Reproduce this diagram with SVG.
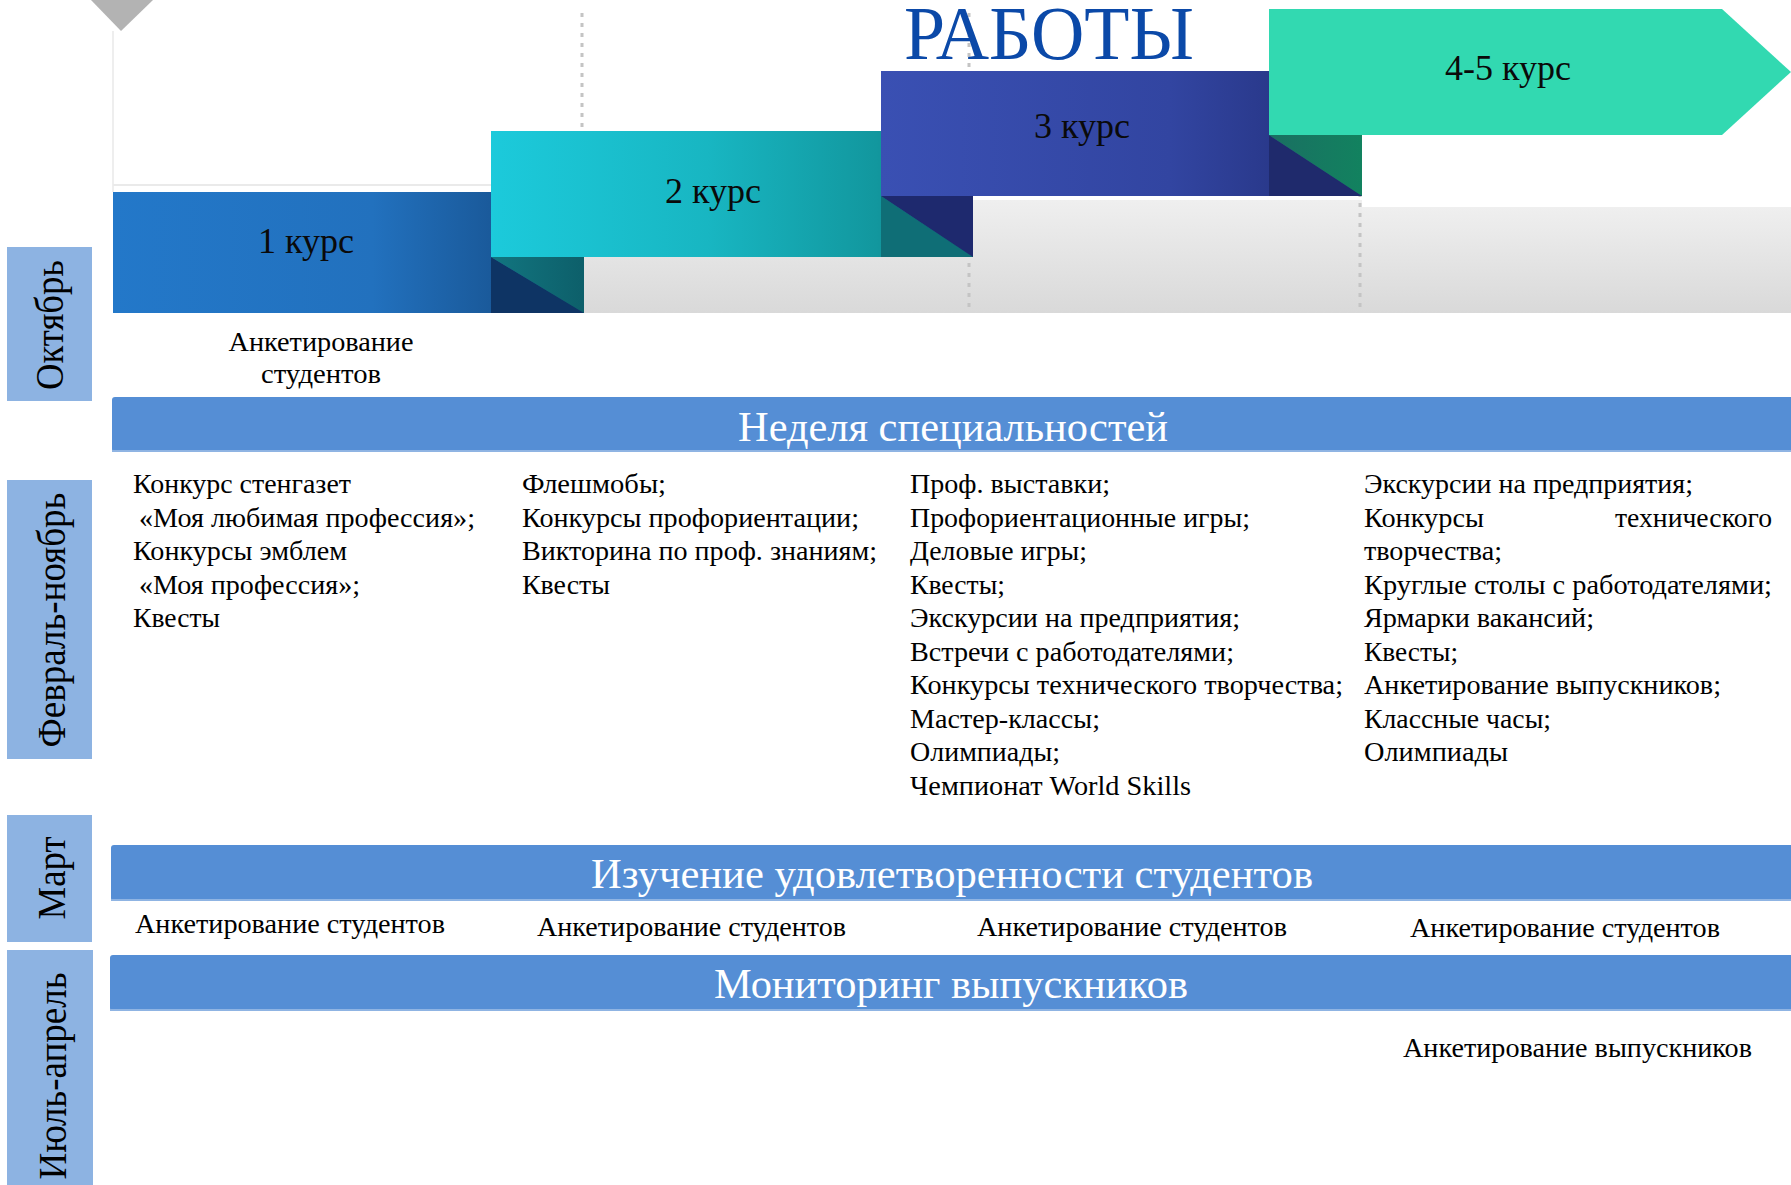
<svg xmlns="http://www.w3.org/2000/svg" width="1791" height="1185" viewBox="0 0 1791 1185">
<style>
.t{font-family:"Liberation Serif","Times New Roman",serif;font-size:28px;fill:#000}
.lbl{font-family:"Liberation Serif","Times New Roman",serif;font-size:36px;fill:#0a0a0a;text-anchor:middle}
.band{fill:#558ed5}
.bandline{stroke:#8fb4e3;stroke-width:2}
.btxt{font-family:"Liberation Serif","Times New Roman",serif;font-size:42px;fill:#fff;text-anchor:middle}
.month{fill:#8db3e2}
.mtxt{font-family:"Liberation Serif","Times New Roman",serif;font-size:40px;fill:#000;text-anchor:middle}
.dot{stroke:#c4c4c4;stroke-width:3;stroke-dasharray:4 6}
</style>
<defs>
<linearGradient id="gGrey" x1="0" y1="0" x2="0" y2="1"><stop offset="0" stop-color="#efefef"/><stop offset="1" stop-color="#d9d9d9"/></linearGradient>
<linearGradient id="g1" x1="0" y1="0" x2="1" y2="0"><stop offset="0" stop-color="#2378c9"/><stop offset="0.55" stop-color="#2271be"/><stop offset="0.8" stop-color="#1a5a9b"/><stop offset="1" stop-color="#0e3464"/></linearGradient>
<linearGradient id="g2" x1="0" y1="0" x2="1" y2="0"><stop offset="0" stop-color="#1ccadb"/><stop offset="0.45" stop-color="#18b6c2"/><stop offset="0.8" stop-color="#12979e"/><stop offset="1" stop-color="#0e7078"/></linearGradient>
<linearGradient id="g3" x1="0" y1="0" x2="1" y2="0"><stop offset="0" stop-color="#3a50b3"/><stop offset="0.6" stop-color="#3245a1"/><stop offset="1" stop-color="#222e78"/></linearGradient>
<linearGradient id="gF1" x1="0" y1="0" x2="1" y2="0"><stop offset="0" stop-color="#127680"/><stop offset="1" stop-color="#0d5f6a"/></linearGradient>
<linearGradient id="gF3" x1="0" y1="0" x2="1" y2="0"><stop offset="0" stop-color="#1a6f62"/><stop offset="1" stop-color="#12825f"/></linearGradient>
</defs>

<g id="background">
<rect x="584" y="200" width="778" height="113" fill="url(#gGrey)"/>
<rect x="1362" y="207" width="429" height="106" fill="url(#gGrey)"/>
<line x1="113" y1="31" x2="113" y2="192" stroke="#eeeeee" stroke-width="2"/>
<line x1="113" y1="185" x2="491" y2="185" stroke="#eaeaea" stroke-width="2"/>
<polygon points="91,0 153,0 121,31" fill="#b3b3b3"/>
</g>

<g id="connectors">
<line class="dot" x1="582" y1="13" x2="582" y2="131"/>
<line class="dot" x1="969" y1="13" x2="969" y2="313"/>
<line class="dot" x1="1360" y1="183" x2="1360" y2="313"/>
</g>

<g id="title">
<text x="904" y="59" font-family="Liberation Serif, Times New Roman, serif" font-size="76" fill="#0b49a8" textLength="290" lengthAdjust="spacingAndGlyphs">РАБОТЫ</text>
</g>

<g id="course1">
<rect x="113" y="192" width="471" height="121" fill="url(#g1)"/>
<polygon points="491,257 491,313 584,313" fill="#0e3464"/>
<text class="lbl" x="306" y="253">1 курс</text>
</g>
<g id="course2">
<polygon points="491,257 584,257 584,313" fill="url(#gF1)"/>
<rect x="491" y="131" width="482" height="126" fill="url(#g2)"/>
<polygon points="881,196 881,257 973,257" fill="#0f6e76"/>
<text class="lbl" x="713" y="203">2 курс</text>
</g>
<g id="course3">
<polygon points="881,196 973,196 973,257" fill="#1e296e"/>
<rect x="881" y="71" width="481" height="125" fill="url(#g3)"/>
<polygon points="1269,135 1269,196 1362,196" fill="#1f2a6c"/>
<text class="lbl" x="1082" y="138">3 курс</text>
</g>
<g id="course45">
<polygon points="1269,135 1362,135 1362,196" fill="url(#gF3)"/>
<polygon points="1269,9 1722,9 1791,72 1722,135 1269,135" fill="#32d9b1"/>
<text class="lbl" x="1508" y="80">4-5 курс</text>
</g>

<g id="month-oct">
<rect class="month" x="7" y="247" width="85" height="154"/>
<text class="mtxt" transform="translate(63,325) rotate(-90)" textLength="130" lengthAdjust="spacingAndGlyphs">Октябрь</text>
</g>
<g id="month-feb-nov">
<rect class="month" x="7" y="480" width="85" height="279"/>
<text class="mtxt" transform="translate(65,620) rotate(-90)" textLength="255" lengthAdjust="spacingAndGlyphs">Февраль-ноябрь</text>
</g>
<g id="month-mar">
<rect class="month" x="7" y="815" width="85" height="127"/>
<text class="mtxt" transform="translate(65,878) rotate(-90)" textLength="83" lengthAdjust="spacingAndGlyphs">Март</text>
</g>
<g id="month-jul-apr">
<rect class="month" x="7" y="950" width="86" height="235"/>
<text class="mtxt" transform="translate(66,1076) rotate(-90)" textLength="207" lengthAdjust="spacingAndGlyphs">Июль-апрель</text>
</g>

<g id="oct-survey">
<text class="t" x="321" y="351" text-anchor="middle" textLength="185" lengthAdjust="spacingAndGlyphs">Анкетирование</text>
<text class="t" x="321" y="383" text-anchor="middle" textLength="120" lengthAdjust="spacingAndGlyphs">студентов</text>
</g>

<g id="band-week">
<rect class="band" x="112" y="397" width="1690" height="55" rx="3"/>
<line class="bandline" x1="112" y1="451" x2="1791" y2="451"/>
<text class="btxt" x="953" y="441" textLength="430" lengthAdjust="spacingAndGlyphs">Неделя специальностей</text>
</g>

<g id="list-course1">
<text class="t" x="133" y="493" textLength="218" lengthAdjust="spacingAndGlyphs">Конкурс стенгазет</text>
<text class="t" x="139" y="527" textLength="336" lengthAdjust="spacingAndGlyphs">«Моя любимая профессия»;</text>
<text class="t" x="133" y="560" textLength="214" lengthAdjust="spacingAndGlyphs">Конкурсы эмблем</text>
<text class="t" x="139" y="594" textLength="221" lengthAdjust="spacingAndGlyphs">«Моя профессия»;</text>
<text class="t" x="133" y="627" textLength="87" lengthAdjust="spacingAndGlyphs">Квесты</text>
</g>
<g id="list-course2">
<text class="t" x="522" y="493" textLength="144" lengthAdjust="spacingAndGlyphs">Флешмобы;</text>
<text class="t" x="522" y="527" textLength="337" lengthAdjust="spacingAndGlyphs">Конкурсы профориентации;</text>
<text class="t" x="522" y="560" textLength="355" lengthAdjust="spacingAndGlyphs">Викторина по проф. знаниям;</text>
<text class="t" x="522" y="594" textLength="88" lengthAdjust="spacingAndGlyphs">Квесты</text>
</g>
<g id="list-course3">
<text class="t" x="910" y="493" textLength="200" lengthAdjust="spacingAndGlyphs">Проф. выставки;</text>
<text class="t" x="910" y="527" textLength="340" lengthAdjust="spacingAndGlyphs">Профориентационные игры;</text>
<text class="t" x="910" y="560" textLength="177" lengthAdjust="spacingAndGlyphs">Деловые игры;</text>
<text class="t" x="910" y="594" textLength="95" lengthAdjust="spacingAndGlyphs">Квесты;</text>
<text class="t" x="910" y="627" textLength="330" lengthAdjust="spacingAndGlyphs">Экскурсии на предприятия;</text>
<text class="t" x="910" y="661" textLength="324" lengthAdjust="spacingAndGlyphs">Встречи с работодателями;</text>
<text class="t" x="910" y="694" textLength="433" lengthAdjust="spacingAndGlyphs">Конкурсы технического творчества;</text>
<text class="t" x="910" y="728" textLength="190" lengthAdjust="spacingAndGlyphs">Мастер-классы;</text>
<text class="t" x="910" y="761" textLength="150" lengthAdjust="spacingAndGlyphs">Олимпиады;</text>
<text class="t" x="910" y="795" textLength="281" lengthAdjust="spacingAndGlyphs">Чемпионат World Skills</text>
</g>
<g id="list-course45">
<text class="t" x="1364" y="493" textLength="329" lengthAdjust="spacingAndGlyphs">Экскурсии на предприятия;</text>
<text class="t" y="527"><tspan x="1364" textLength="120" lengthAdjust="spacingAndGlyphs">Конкурсы</tspan><tspan x="1615" textLength="157" lengthAdjust="spacingAndGlyphs">технического</tspan></text>
<text class="t" x="1364" y="560" textLength="138" lengthAdjust="spacingAndGlyphs">творчества;</text>
<text class="t" x="1364" y="594" textLength="408" lengthAdjust="spacingAndGlyphs">Круглые столы с работодателями;</text>
<text class="t" x="1364" y="627" textLength="230" lengthAdjust="spacingAndGlyphs">Ярмарки вакансий;</text>
<text class="t" x="1364" y="661" textLength="94" lengthAdjust="spacingAndGlyphs">Квесты;</text>
<text class="t" x="1364" y="694" textLength="357" lengthAdjust="spacingAndGlyphs">Анкетирование выпускников;</text>
<text class="t" x="1364" y="728" textLength="187" lengthAdjust="spacingAndGlyphs">Классные часы;</text>
<text class="t" x="1364" y="761" textLength="144" lengthAdjust="spacingAndGlyphs">Олимпиады</text>
</g>

<g id="band-satisfaction">
<rect class="band" x="111" y="845" width="1690" height="56" rx="3"/>
<line class="bandline" x1="111" y1="900" x2="1791" y2="900"/>
<text class="btxt" x="952" y="888" textLength="722" lengthAdjust="spacingAndGlyphs">Изучение удовлетворенности студентов</text>
</g>
<g id="survey-row">
<text class="t" x="135" y="933" textLength="310" lengthAdjust="spacingAndGlyphs">Анкетирование студентов</text>
<text class="t" x="537" y="936" textLength="309" lengthAdjust="spacingAndGlyphs">Анкетирование студентов</text>
<text class="t" x="977" y="936" textLength="310" lengthAdjust="spacingAndGlyphs">Анкетирование студентов</text>
<text class="t" x="1410" y="937" textLength="310" lengthAdjust="spacingAndGlyphs">Анкетирование студентов</text>
</g>
<g id="band-monitoring">
<rect class="band" x="110" y="955" width="1690" height="56" rx="3"/>
<line class="bandline" x1="110" y1="1010" x2="1791" y2="1010"/>
<text class="btxt" x="951" y="998" textLength="474" lengthAdjust="spacingAndGlyphs">Мониторинг выпускников</text>
</g>
<g id="graduate-survey">
<text class="t" x="1403" y="1057" textLength="349" lengthAdjust="spacingAndGlyphs">Анкетирование выпускников</text>
</g>
</svg>
